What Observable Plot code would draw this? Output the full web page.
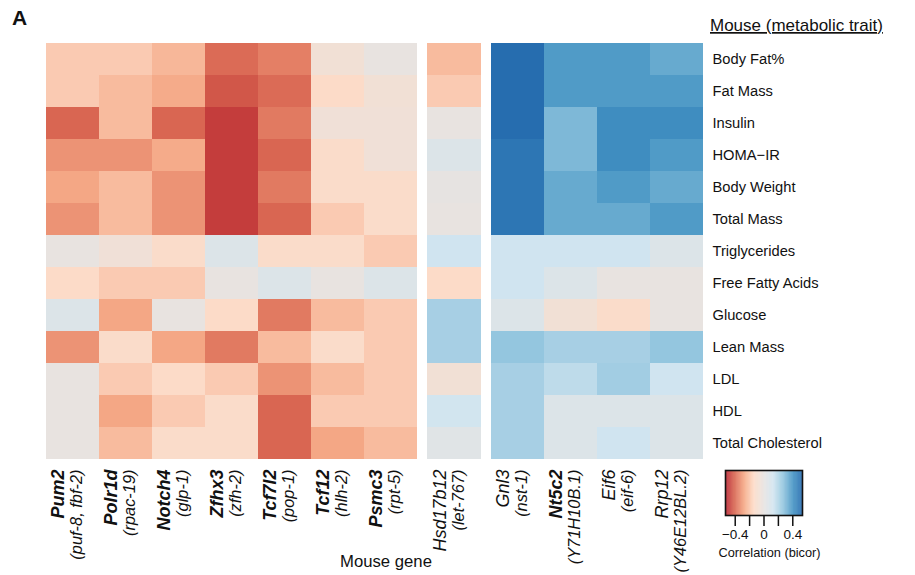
<!DOCTYPE html>
<html>
<head>
<meta charset="utf-8">
<script src="https://cdn.jsdelivr.net/npm/d3@7"></script>
<script src="https://cdn.jsdelivr.net/npm/@observablehq/plot@0.6"></script>
<style>
  body { margin: 0; background: #fff; font-family: "Liberation Sans", Arial, Helvetica, sans-serif; }
  #wrap { position: relative; width: 915px; height: 575px; overflow: hidden; background: #fff; }
  #wrap > svg { position: absolute; }
</style>
</head>
<body>
<div id="wrap"></div>
<script>
// ---- data ----
const traits = ["Body Fat%", "Fat Mass", "Insulin", "HOMA\u2212IR", "Body Weight", "Total Mass",
  "Triglycerides", "Free Fatty Acids", "Glucose", "Lean Mass", "LDL", "HDL", "Total Cholesterol"];

const genesA = ["Pum2", "Polr1d", "Notch4", "Zfhx3", "Tcf7l2", "Tcf12", "Psmc3"];
const orthoA = ["(puf-8, fbf-2)", "(rpac-19)", "(glp-1)", "(zfh-2)", "(pop-1)", "(hlh-2)", "(rpt-5)"];
const boldA = [true, true, true, true, true, true, true];

const genesB = ["Hsd17b12"];
const orthoB = ["(let-767)"];
const boldB = [false];

const genesC = ["Gnl3", "Nt5c2", "Eif6", "Rrp12"];
const orthoC = ["(nst-1)", "(Y71H10B.1)", "(eif-6)", "(Y46E12BL.2)"];
const boldC = [false, true, false, false];

// correlation (bicor) per gene, in trait order
const pum2     = [-0.18, -0.18, -0.40, -0.31, -0.27, -0.31,  0.00, -0.13,  0.07, -0.31,  0.00,  0.00,  0.00];
const polr1d   = [-0.18, -0.22, -0.22, -0.31, -0.22, -0.22, -0.05, -0.18, -0.27, -0.12, -0.18, -0.27, -0.22];
const notch4   = [-0.23, -0.26, -0.40, -0.26, -0.31, -0.31, -0.12, -0.18,  0.00, -0.27, -0.13, -0.18, -0.12];
const zfhx3    = [-0.39, -0.43, -0.48, -0.48, -0.48, -0.48,  0.07,  0.00, -0.13, -0.36, -0.18, -0.12, -0.12];
const tcf7l2   = [-0.35, -0.39, -0.36, -0.40, -0.36, -0.40, -0.12,  0.07, -0.36, -0.22, -0.31, -0.40, -0.40];
const tcf12    = [-0.06, -0.13, -0.05, -0.12, -0.12, -0.18, -0.12,  0.00, -0.22, -0.12, -0.22, -0.18, -0.27];
const psmc3    = [ 0.00, -0.06, -0.05, -0.05, -0.12, -0.12, -0.18,  0.07, -0.18, -0.18, -0.18, -0.18, -0.22];
const hsd17b12 = [-0.22, -0.18,  0.00,  0.07,  0.01,  0.00,  0.14, -0.13,  0.23,  0.23, -0.06,  0.13,  0.05];
const gnl3     = [ 0.53,  0.53,  0.53,  0.50,  0.50,  0.50,  0.14,  0.14,  0.07,  0.27,  0.23,  0.23,  0.23];
const nt5c2    = [ 0.39,  0.39,  0.31,  0.31,  0.35,  0.35,  0.14,  0.07, -0.06,  0.23,  0.18,  0.07,  0.07];
const eif6     = [ 0.39,  0.39,  0.43,  0.43,  0.39,  0.35,  0.14,  0.00, -0.12,  0.23,  0.24,  0.07,  0.14];
const rrp12    = [ 0.35,  0.39,  0.43,  0.39,  0.35,  0.39,  0.07,  0.00,  0.00,  0.27,  0.14,  0.07,  0.07];

const valuesA = [pum2, polr1d, notch4, zfhx3, tcf7l2, tcf12, psmc3];
const valuesB = [hsd17b12];
const valuesC = [gnl3, nt5c2, eif6, rrp12];

const legendTicks = [-0.4, -0.2, 0, 0.2, 0.4];
const legendLabelled = [-0.4, 0, 0.4];

// ---- colour scale ----
const colorStops = [-0.55, -0.4125, -0.275, -0.1375, 0, 0.1375, 0.275, 0.4125, 0.55];
const colorRange = ["#b2182b", "#d6604d", "#f4a582", "#fddbc7", "#e8e3e0", "#d1e5f0", "#92c5de", "#4393c3", "#2166ac"];
const colorOpt = {type: "linear", domain: colorStops, range: colorRange, interpolate: "rgb"};

const FONT = '"Liberation Sans", Arial, Helvetica, sans-serif';
const wrap = document.getElementById("wrap");

function panel(genes, ortho, bold, values, o) {
  const cells = [];
  genes.forEach((g, i) => traits.forEach((t, j) => cells.push({gene: g, trait: t, value: values[i][j]})));
  const labels = genes.map((g, i) => ({gene: g, name: g, ortho: ortho[i], bold: bold[i]}));
  const txt = {x: "gene", frameAnchor: "bottom", rotate: -90, textAnchor: "end", dy: 6.5,
               fontStyle: "italic", fill: "#111"};
  const marks = [
    Plot.cell(cells, {x: "gene", y: "trait", fill: "value", inset: 0, shapeRendering: "crispEdges"}),
    Plot.text(labels, {...txt, text: "name", dx: -9, fontSize: 18, fontWeight: "bold", filter: d => d.bold}),
    Plot.text(labels, {...txt, text: "name", dx: -9, fontSize: 18, filter: d => !d.bold}),
    Plot.text(labels, {...txt, text: "ortho", dx: 9, fontSize: 16.4})
  ];
  if (o.showY) marks.push(Plot.axisY({anchor: "right", tickSize: 0, tickPadding: 9, fontSize: 14.7, label: null, fill: "#111"}));
  const svg = Plot.plot({
    width: o.width, height: 575,
    marginTop: 40, marginBottom: 112.5, marginLeft: o.ml || 0, marginRight: o.mr || 0,
    style: {fontFamily: FONT, background: "transparent", overflow: "visible", color: "#111"},
    x: {domain: genes, padding: 0, axis: null},
    y: {domain: traits, padding: 0, axis: null},
    color: colorOpt,
    marks
  });
  svg.style.left = o.left + "px";
  svg.style.top = "0px";
  wrap.appendChild(svg);
}

panel(genesA, orthoA, boldA, valuesA, {left: 0, width: 418, ml: 45});
panel(genesB, orthoB, boldB, valuesB, {left: 427, width: 54});
panel(genesC, orthoC, boldC, valuesC, {left: 490, width: 425, mr: 212, showY: true});

// ---- legend ----
const step = 0.005;
const ramp = d3.range(-0.535, 0.535, step).map(a => ({a, b: Math.min(a + step * 1.6, 0.535), v: a + step / 2}));
const leg = Plot.plot({
  width: 140, height: 110,
  marginLeft: 25, marginRight: 38, marginTop: 15, marginBottom: 50,
  style: {fontFamily: FONT, background: "transparent", overflow: "visible", color: "#111"},
  x: {domain: [-0.535, 0.535]},
  color: colorOpt,
  marks: [
    Plot.barX(ramp, {x1: "a", x2: "b", fill: "v", inset: 0}),
    Plot.frame({stroke: "#111", strokeWidth: 1.6}),
    Plot.axisX({ticks: legendTicks, tickSize: 11, tickPadding: 3, fontSize: 13.5, strokeWidth: 1.5,
      label: null,
      tickFormat: d => legendLabelled.some(v => Math.abs(v - d) < 1e-9) ? (d === 0 ? "0" : (d < 0 ? "\u2212" : "") + Math.abs(d)) : ""})
  ]
});
leg.style.left = "700px";
leg.style.top = "455px";
wrap.appendChild(leg);

// ---- free text ----
const ns = "http://www.w3.org/2000/svg";
const over = document.createElementNS(ns, "svg");
over.setAttribute("width", 915); over.setAttribute("height", 575);
over.style.left = "0px"; over.style.top = "0px"; over.style.pointerEvents = "none";
over.style.fontFamily = FONT;
function addText(str, x, y, attrs) {
  const t = document.createElementNS(ns, "text");
  t.textContent = str;
  t.setAttribute("x", x); t.setAttribute("y", y);
  t.setAttribute("fill", "#111");
  for (const k in attrs) t.setAttribute(k, attrs[k]);
  over.appendChild(t);
}
addText("A", 12, 24.5, {"font-size": 21, "font-weight": "bold"});
addText("Mouse (metabolic trait)", 710, 31, {"font-size": 17, "text-decoration": "underline"});
addText("Mouse gene", 386, 567, {"font-size": 16.7, "text-anchor": "middle"});
addText("Correlation (bicor)", 769.5, 557, {"font-size": 12.75, "text-anchor": "middle"});
wrap.appendChild(over);
</script>
</body>
</html>
